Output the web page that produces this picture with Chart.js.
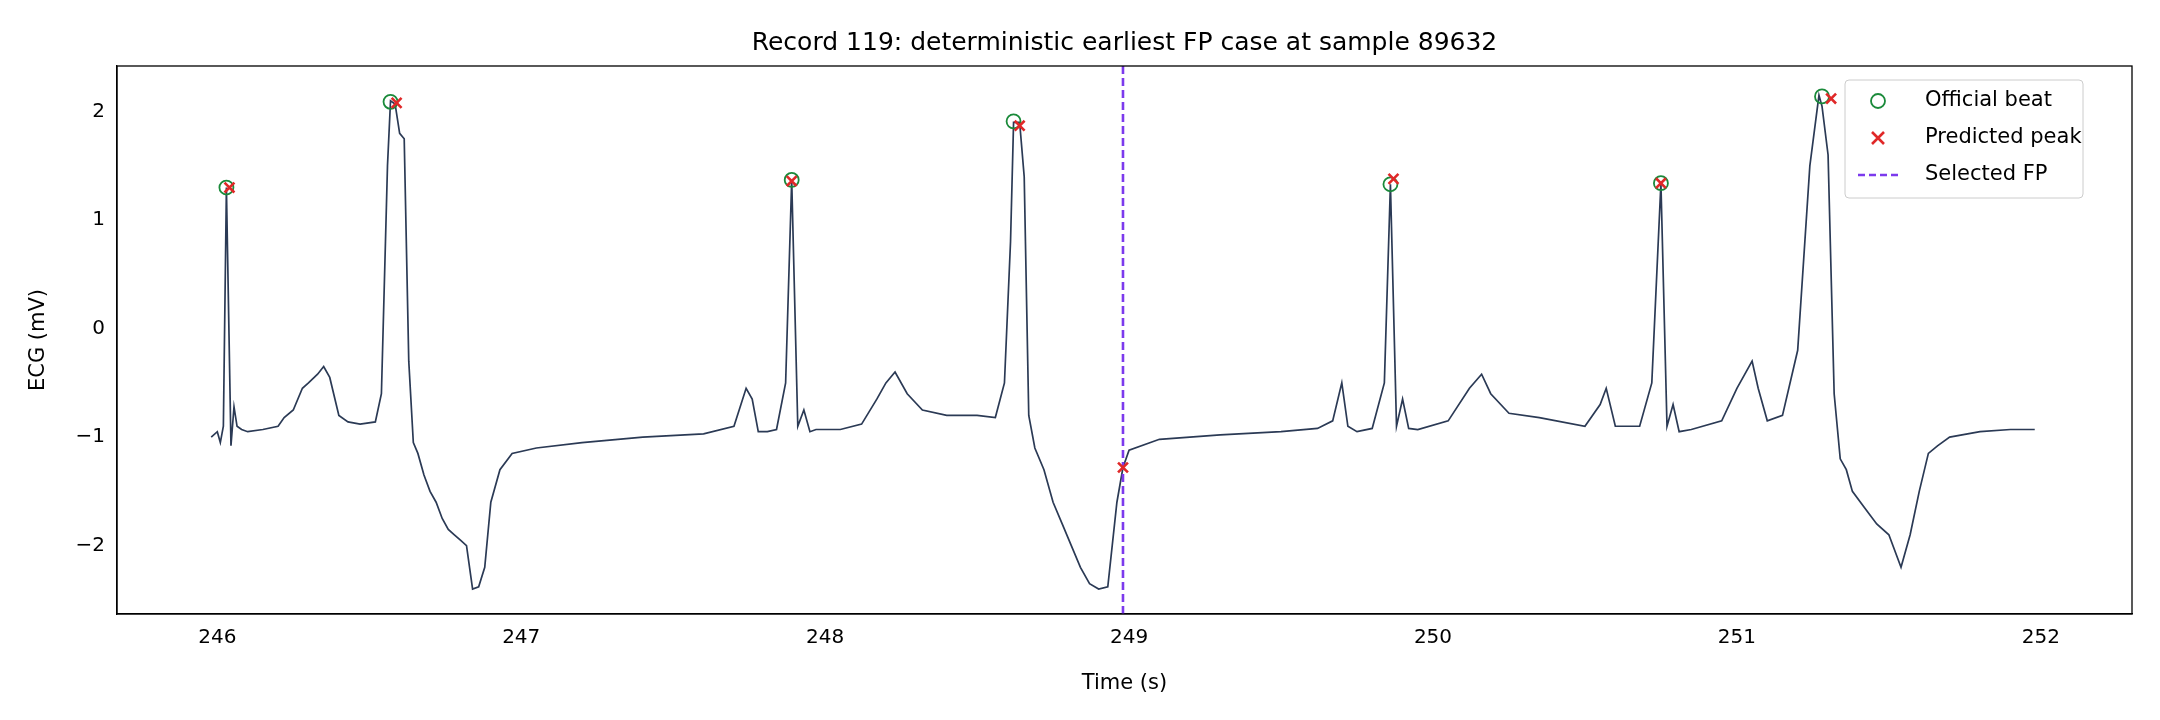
<!DOCTYPE html>
<html><head><meta charset="utf-8">
<script src="https://cdn.jsdelivr.net/npm/chart.js@4.4.0/dist/chart.umd.min.js"></script>
<style>html,body{margin:0;padding:0;background:#fff}#c{display:block}</style>
</head><body>
<canvas id="c" width="2160" height="720"></canvas>
<script>
const ecgT = [245.98,246.0,246.01,246.02,246.03,246.045,246.055,246.065,246.08,246.1,246.15,246.2,246.22,246.25,246.28,246.3,246.33,246.35,246.37,246.4,246.43,246.47,246.52,246.54,246.56,246.57,246.585,246.6,246.615,246.63,246.645,246.66,246.68,246.7,246.72,246.74,246.76,246.78,246.8,246.82,246.84,246.86,246.88,246.9,246.93,246.97,247.05,247.2,247.4,247.6,247.7,247.74,247.76,247.78,247.81,247.84,247.87,247.89,247.91,247.93,247.95,247.97,248.05,248.12,248.17,248.2,248.23,248.27,248.32,248.4,248.5,248.56,248.59,248.61,248.62,248.64,248.655,248.67,248.69,248.72,248.75,248.78,248.81,248.84,248.87,248.9,248.93,248.96,248.98,249.0,249.1,249.3,249.5,249.62,249.67,249.7,249.72,249.75,249.8,249.84,249.86,249.88,249.9,249.92,249.95,250.05,250.12,250.16,250.19,250.25,250.35,250.5,250.55,250.57,250.6,250.68,250.72,250.75,250.77,250.79,250.81,250.85,250.95,251.0,251.05,251.07,251.1,251.15,251.2,251.24,251.27,251.28,251.3,251.32,251.34,251.36,251.38,251.42,251.46,251.5,251.54,251.57,251.6,251.63,251.66,251.7,251.8,251.9,251.98];
const ecgV = [-1.0,-0.95,-1.05,-0.9,1.3,-1.08,-0.72,-0.9,-0.93,-0.95,-0.93,-0.9,-0.82,-0.75,-0.55,-0.5,-0.42,-0.35,-0.45,-0.8,-0.86,-0.88,-0.86,-0.6,1.5,2.1,2.07,1.8,1.75,-0.3,-1.05,-1.15,-1.35,-1.5,-1.6,-1.75,-1.85,-1.9,-1.95,-2.0,-2.4,-2.38,-2.2,-1.6,-1.3,-1.15,-1.1,-1.05,-1.0,-0.97,-0.9,-0.55,-0.65,-0.95,-0.95,-0.93,-0.5,1.37,-0.9,-0.75,-0.95,-0.93,-0.93,-0.88,-0.65,-0.5,-0.4,-0.6,-0.75,-0.8,-0.8,-0.82,-0.5,0.8,1.9,1.9,1.4,-0.8,-1.1,-1.3,-1.6,-1.8,-2.0,-2.2,-2.35,-2.4,-2.38,-1.6,-1.28,-1.12,-1.02,-0.98,-0.95,-0.92,-0.85,-0.5,-0.9,-0.95,-0.92,-0.5,1.33,-0.9,-0.65,-0.92,-0.93,-0.85,-0.55,-0.42,-0.6,-0.78,-0.82,-0.9,-0.7,-0.55,-0.9,-0.9,-0.5,1.34,-0.9,-0.7,-0.95,-0.93,-0.85,-0.55,-0.3,-0.55,-0.85,-0.8,-0.2,1.5,2.15,2.05,1.6,-0.6,-1.2,-1.3,-1.5,-1.65,-1.8,-1.9,-2.2,-1.9,-1.5,-1.15,-1.08,-1.0,-0.95,-0.93,-0.93];
const beatT = [246.03,246.57,247.89,248.62,249.86,250.75,251.28];
const beatV = [1.3,2.09,1.37,1.91,1.33,1.34,2.14];
const predT = [246.04,246.59,247.89,248.64,248.98,249.87,250.75,251.31];
const predV = [1.3,2.08,1.36,1.87,-1.28,1.38,1.34,2.12];
const fpT = 248.98;
const xTicks = [246,247,248,249,250,251,252];
const yTicks = [-2,-1,0,1,2];
const XMIN=245.67, XMAX=252.3, YMIN=-2.63, YMAX=2.42;
const FONT="'DejaVu Sans', sans-serif";

const ecg = ecgT.map((t,i)=>({x:t,y:ecgV[i]}));
const beats = beatT.map((t,i)=>({x:t,y:beatV[i]}));
const preds = predT.map((t,i)=>({x:t,y:predV[i]}));

const extras = {
  id:'extras',
  afterDraw(ch){
    const c=ch.ctx, a=ch.chartArea;
    c.save();
    c.strokeStyle='#000'; c.lineWidth=1.3;
    c.strokeRect(a.left,a.top,a.right-a.left,a.bottom-a.top);
    c.fillStyle='#000'; c.font='25px '+FONT; c.textAlign='center'; c.textBaseline='middle';
    c.fillText('Record 119: deterministic earliest FP case at sample 89632',(a.left+a.right)/2,43);
    const lx=1845, ly=80, lw=238, lh=118;
    c.fillStyle='rgba(255,255,255,0.85)'; c.strokeStyle='#cccccc'; c.lineWidth=1;
    c.beginPath(); c.roundRect(lx,ly,lw,lh,4); c.fill(); c.stroke();
    c.font='21px '+FONT; c.textAlign='left'; c.fillStyle='#000';
    const rows=['Official beat','Predicted peak','Selected FP'];
    rows.forEach((r,i)=>{
      const y=ly+21+i*37, sx=lx+33;
      if(i===0){c.strokeStyle='#1a8a3a';c.lineWidth=1.8;c.beginPath();c.arc(sx,y,7,0,Math.PI*2);c.stroke();}
      if(i===1){c.strokeStyle='#e02828';c.lineWidth=2.6;c.beginPath();c.moveTo(sx-6,y-6);c.lineTo(sx+6,y+6);c.moveTo(sx+6,y-6);c.lineTo(sx-6,y+6);c.stroke();}
      if(i===2){c.strokeStyle='#7c3aed';c.lineWidth=2.6;c.setLineDash([7,4]);c.beginPath();c.moveTo(sx-20,y);c.lineTo(sx+20,y);c.stroke();c.setLineDash([]);}
      c.fillStyle='#000'; c.fillText(r,lx+80,y);
    });
    c.restore();
  }
};

new Chart(document.getElementById('c'),{
  type:'scatter',
  data:{datasets:[
    {data:ecg,showLine:true,borderColor:'#2b3a55',borderWidth:1.7,pointRadius:0,tension:0,order:3},
    {data:[{x:fpT,y:YMIN},{x:fpT,y:YMAX}],showLine:true,borderColor:'#7c3aed',borderWidth:2.6,borderDash:[8,4],pointRadius:0,order:2},
    {data:beats,pointStyle:'circle',pointRadius:7,pointBorderColor:'#1a8a3a',pointBackgroundColor:'rgba(0,0,0,0)',pointBorderWidth:1.8,order:1},
    {data:preds,pointStyle:'crossRot',pointRadius:7,pointBorderColor:'#e02828',pointBorderWidth:2.6,order:0}
  ]},
  options:{
    responsive:false,animation:false,devicePixelRatio:1,
    layout:{padding:{top:66,right:28,left:26,bottom:24}},
    plugins:{legend:{display:false},tooltip:{enabled:false},title:{display:false}},
    scales:{
      x:{type:'linear',min:XMIN,max:XMAX,grid:{display:false,drawTicks:true,tickLength:8,tickColor:'#000'},
        border:{display:true,color:'#000',width:1.3},
        afterFit(s){s.height=82;},
        afterBuildTicks(s){s.ticks=xTicks.map(v=>({value:v}));},
        ticks:{color:'#000',font:{family:FONT,size:20},padding:4,callback:v=>String(v)},
        title:{display:true,text:'Time (s)',color:'#000',font:{family:FONT,size:21},padding:0}},
      y:{min:YMIN,max:YMAX,grid:{display:false,tickLength:8,tickColor:'#000'},
        border:{display:true,color:'#000',width:1.3},
        afterFit(s){s.width=91;},
        afterBuildTicks(s){s.ticks=yTicks.map(v=>({value:v}));},
        ticks:{color:'#000',font:{family:FONT,size:20},padding:4,callback:v=>v<0?'\u2212'+Math.abs(v):String(v)},
        title:{display:true,text:'ECG (mV)',color:'#000',font:{family:FONT,size:21},padding:0}}
    }
  },
  plugins:[extras]
});
</script>
</body></html>
